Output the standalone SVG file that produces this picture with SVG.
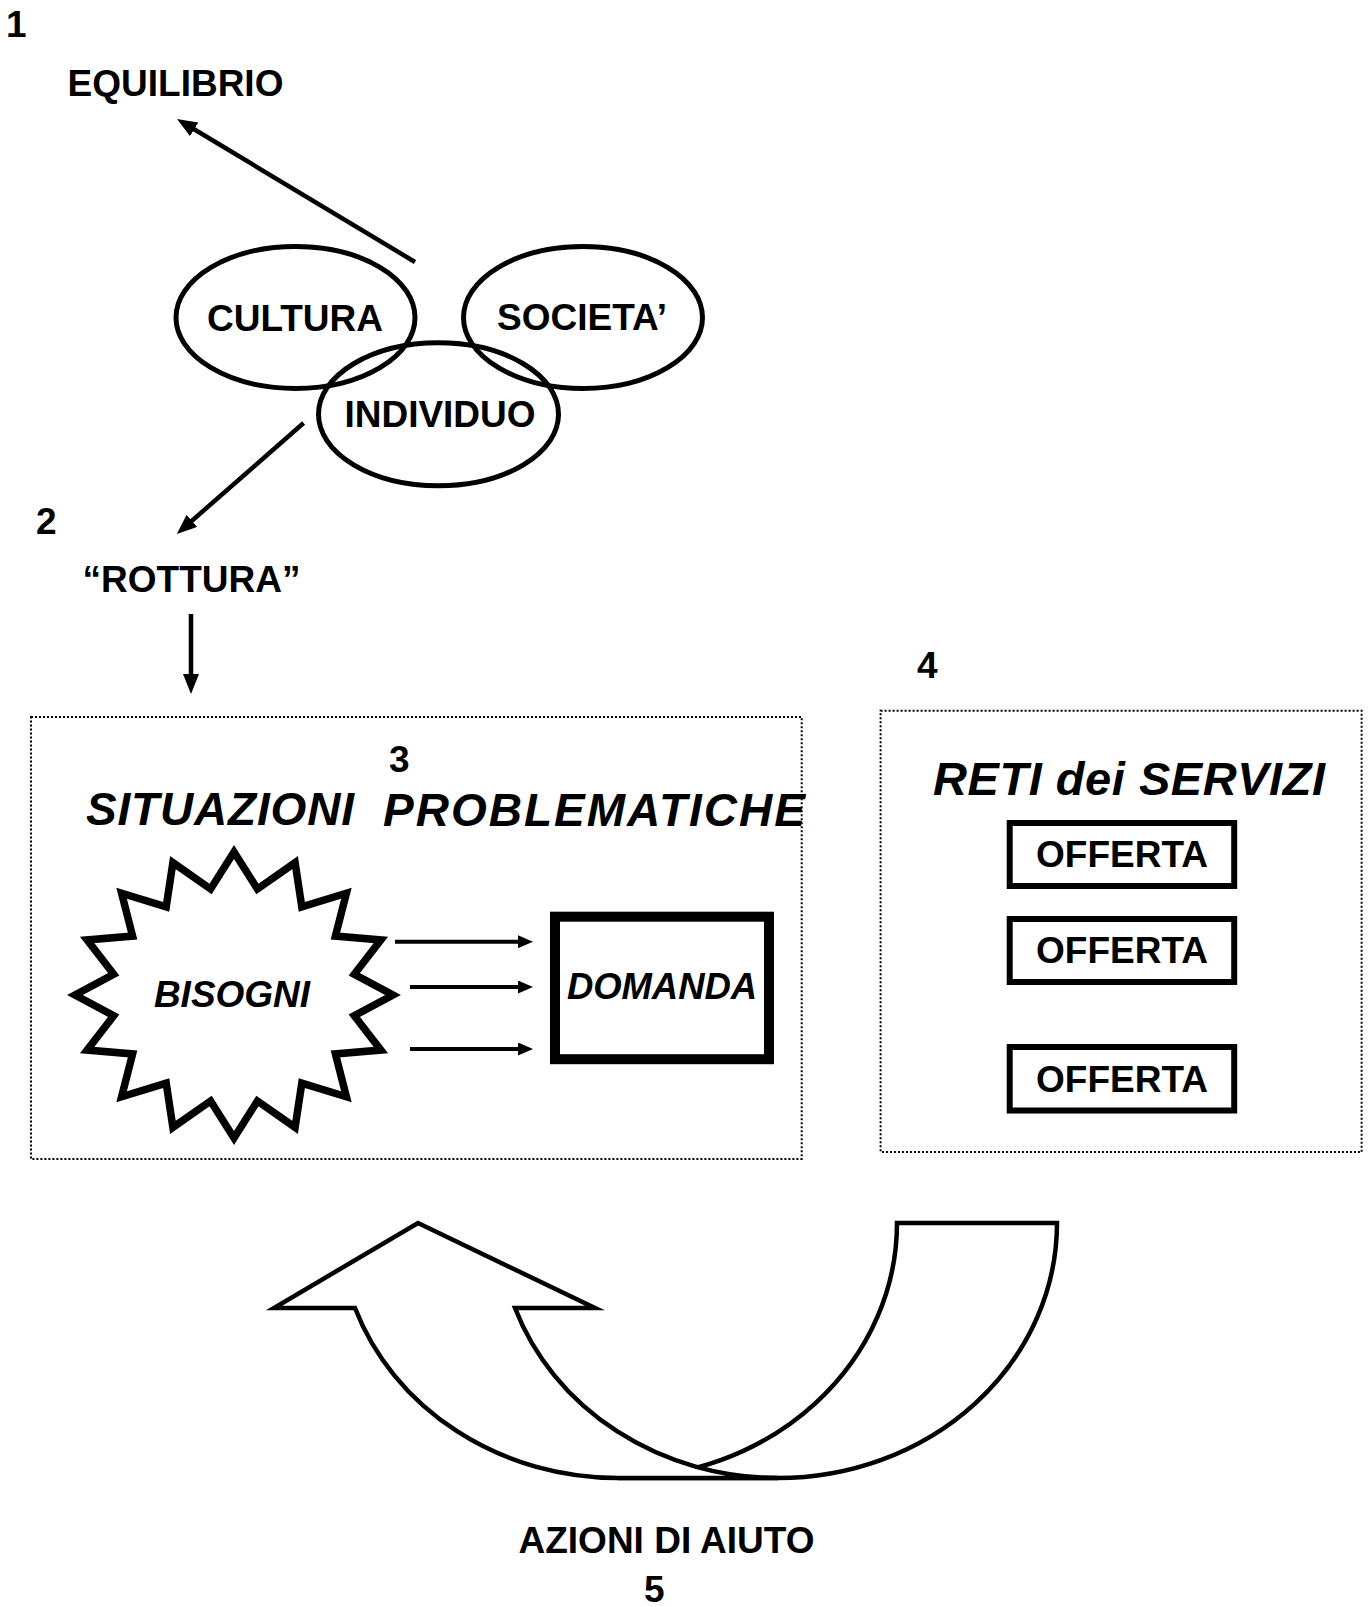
<svg xmlns="http://www.w3.org/2000/svg" width="1370" height="1607" viewBox="0 0 1370 1607">
<style>
text{font-family:"Liberation Sans",Arial,Helvetica,sans-serif;font-weight:bold;fill:#000}
.t37{font-size:37px}
.mid{text-anchor:middle}
.it{font-style:italic}
.ell{fill:none;stroke:#000;stroke-width:5}
.ln{fill:none;stroke:#000;stroke-width:4.5}
.lns{fill:none;stroke:#000;stroke-width:4}
.dot{fill:none;stroke:#000;stroke-width:2;stroke-dasharray:2 2}
.box{fill:#fff;stroke:#000;stroke-width:6}
.band{fill:#fff;stroke:#000;stroke-width:4.5;stroke-linejoin:miter;stroke-miterlimit:12}
</style>
<defs>
<marker id="ah" markerUnits="userSpaceOnUse" markerWidth="20" markerHeight="16" viewBox="0 0 20 16" refX="1" refY="8" orient="auto"><path d="M0,0 L20,8 L0,16 Z" fill="#000"/></marker>
<marker id="ahs" markerUnits="userSpaceOnUse" markerWidth="15" markerHeight="13" viewBox="0 0 15 13" refX="1" refY="6.5" orient="auto"><path d="M0,0 L15,6.5 L0,13 Z" fill="#000"/></marker>
</defs>
<rect width="1370" height="1607" fill="#fff"/>

<g id="label-1"><text class="t37" x="6" y="37">1</text></g>
<g id="equilibrio"><text class="t37 mid" x="175.5" y="96">EQUILIBRIO</text></g>

<g id="cultura"><ellipse class="ell" cx="295.5" cy="317.5" rx="119.5" ry="71"/><text class="t37 mid" x="295" y="331">CULTURA</text></g>
<g id="societa"><ellipse class="ell" cx="583" cy="317.5" rx="119.5" ry="71"/><text class="t37 mid" x="582" y="330">SOCIETA’</text></g>
<g id="individuo"><ellipse class="ell" cx="438.5" cy="414.3" rx="120" ry="71.5"/><text class="t37 mid" x="440" y="427">INDIVIDUO</text></g>

<g id="label-2"><text class="t37" x="36" y="534">2</text></g>
<g id="rottura"><text class="t37 mid" x="191.5" y="592">“ROTTURA”</text></g>

<g id="situazioni">
<rect class="dot" x="31" y="717" width="770.7" height="442"/>
<text class="t37" x="389" y="772">3</text>
<text class="it" style="font-size:46px" x="86" y="825" textLength="268" lengthAdjust="spacing">SITUAZIONI</text>
<text class="it" style="font-size:46px" x="383" y="826" textLength="422" lengthAdjust="spacing">PROBLEMATICHE</text>
</g>

<g id="bisogni">
<polygon fill="#fff" stroke="#000" stroke-width="7.5" stroke-miterlimit="10" points="234,852 257.4,889 295.1,862.6 301.8,906.9 346.4,893.2 335.4,936.1 380.9,939.9 354.3,974.3 393,995 354.3,1015.7 380.9,1050.1 335.4,1053.9 346.4,1096.8 301.8,1083.1 295.1,1127.4 257.4,1101 234,1138 210.6,1101 172.9,1127.4 166.2,1083.1 121.6,1096.8 132.6,1053.9 87.1,1050.1 113.7,1015.7 75,995 113.7,974.3 87.1,939.9 132.6,936.1 121.6,893.2 166.2,906.9 172.9,862.6 210.6,889"/>
<text class="t37 mid it" x="232" y="1007">BISOGNI</text>
</g>

<g id="domanda">
<rect x="555" y="916.7" width="214" height="142.5" fill="#fff" stroke="#000" stroke-width="10"/>
<text class="mid it" style="font-size:36.5px" x="662" y="999" textLength="190" lengthAdjust="spacing">DOMANDA</text>
</g>

<g id="label-4"><text class="t37" x="917" y="678">4</text></g>
<g id="reti">
<rect class="dot" x="880.6" y="710.7" width="481" height="441.3"/>
<text class="it" style="font-size:47px" x="933" y="794.5" textLength="392" lengthAdjust="spacing">RETI dei SERVIZI</text>
</g>
<g id="offerta-1"><rect class="box" x="1009.7" y="823" width="224.5" height="63"/><text class="t37 mid" x="1122" y="867">OFFERTA</text></g>
<g id="offerta-2"><rect class="box" x="1009.7" y="919" width="224.5" height="63"/><text class="t37 mid" x="1122" y="962.6">OFFERTA</text></g>
<g id="offerta-3"><rect class="box" x="1009.7" y="1047" width="224.5" height="63.5"/><text class="t37 mid" x="1122" y="1091.7">OFFERTA</text></g>

<g id="azioni-arrow">
<path class="band" d="M897,1223 L1057,1223 A279,255 0 0 1 778,1478 L618,1478 A279,255 0 0 0 897,1223 Z"/>
<path class="band" d="M618,1478 A279,255 0 0 1 355,1308 L274,1308 L418,1223 L595,1308 L515,1308 A279,255 0 0 0 778,1478 Z"/>
</g>
<g id="azioni">
<text class="t37 mid" x="666.5" y="1553">AZIONI DI AIUTO</text>
<text class="t37" x="644" y="1602">5</text>
</g>

<g id="connectors">
<line class="ln" x1="415" y1="262" x2="193.3" y2="128.8" marker-end="url(#ah)"/>
<line class="ln" x1="303.6" y1="423" x2="191.1" y2="521.5" marker-end="url(#ah)"/>
<line class="ln" x1="191" y1="614" x2="191" y2="675" marker-end="url(#ah)"/>
<line class="lns" x1="395" y1="941.7" x2="519" y2="941.7" marker-end="url(#ahs)"/>
<line class="lns" x1="410" y1="987" x2="519" y2="987" marker-end="url(#ahs)"/>
<line class="lns" x1="410" y1="1049" x2="519" y2="1049" marker-end="url(#ahs)"/>
</g>
</svg>
